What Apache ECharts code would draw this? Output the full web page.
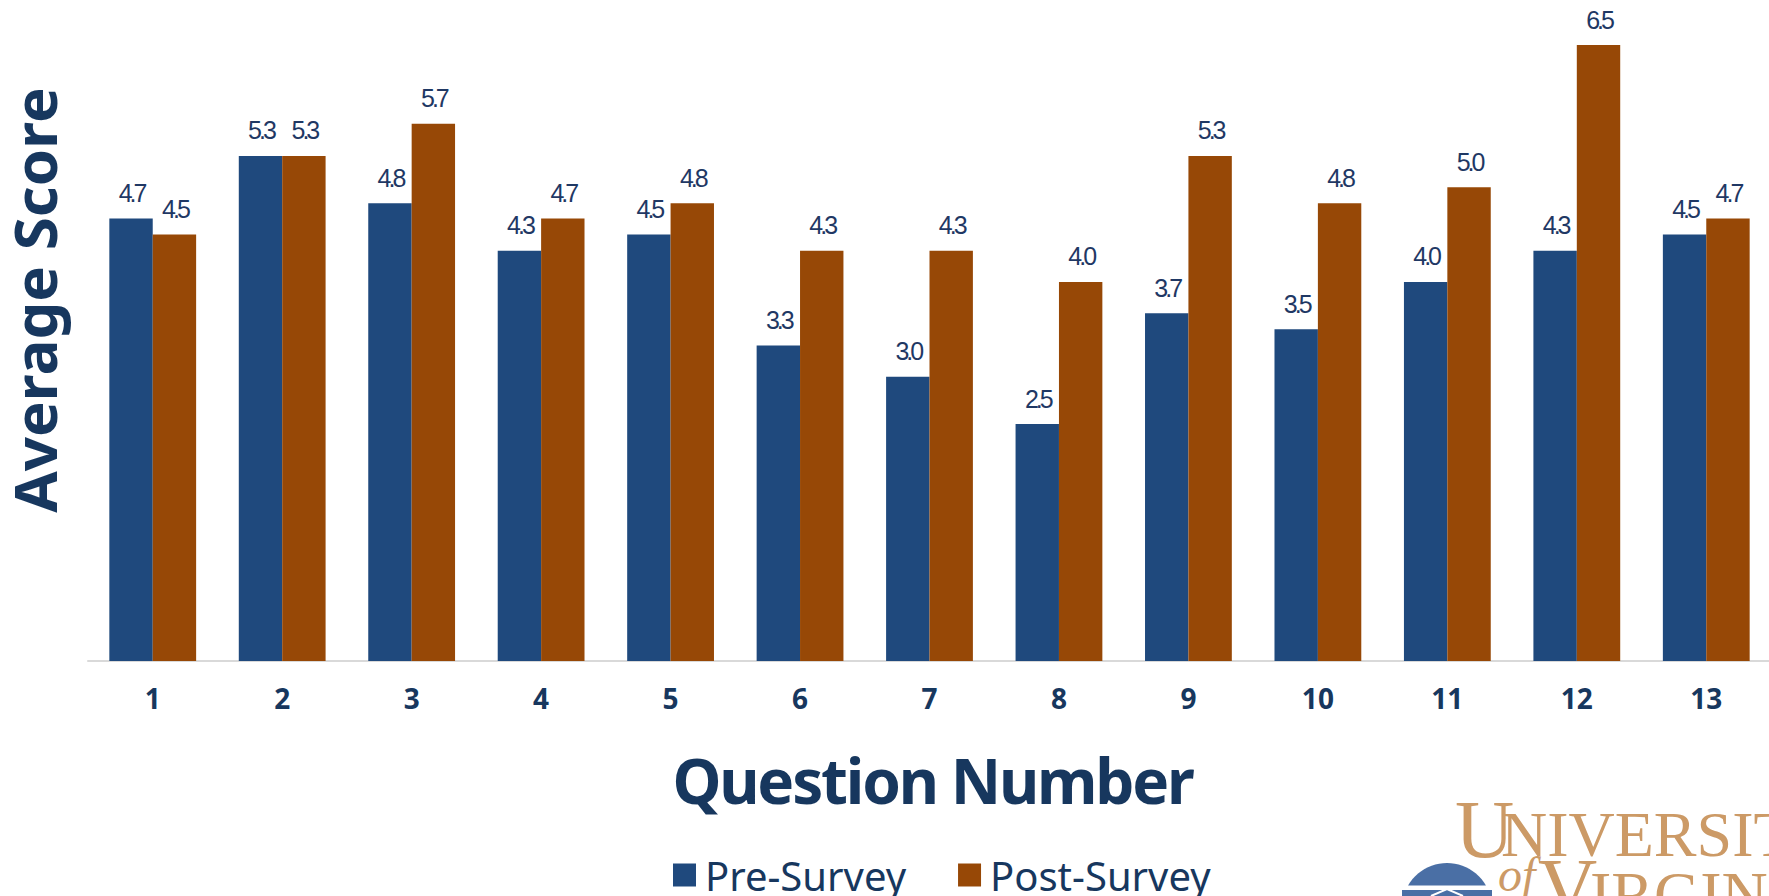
<!DOCTYPE html>
<html><head><meta charset="utf-8">
<style>html,body{margin:0;padding:0;background:#fff;overflow:hidden}#c{width:1769px;height:896px}
#c text[style*="25px"]{letter-spacing:-3px}
#c text[style*="62px"]{letter-spacing:-2.2px}
</style>
<script src="https://cdn.jsdelivr.net/npm/echarts@6/dist/echarts.min.js"></script>
</head><body><div id="c"></div>
<script>
const categories = ['1','2','3','4','5','6','7','8','9','10','11','12','13'];
const preSurvey  = [4.67,5.33,4.83,4.33,4.5,3.33,3.0,2.5,3.67,3.5,4.0,4.33,4.5];
const postSurvey = [4.5,5.33,5.67,4.67,4.83,4.33,4.33,4.0,5.33,4.83,5.0,6.5,4.67];
const ink = '#17375E';
const label = {show:true,position:'top',distance:13,offset:[0.5,0],color:'#1F3864',
  fontFamily:'"Liberation Sans",sans-serif',fontSize:25,
  formatter:p=>p.value.toFixed(1)};
const domePoints = [];
for (let a=-150;a<=-30;a+=5){const r=a*Math.PI/180;domePoints.push([1447+45*Math.cos(r),908+45*Math.sin(r)]);}
const chart = echarts.init(document.getElementById('c'),null,{renderer:'svg'});
chart.setOption({
  animation:false,
  backgroundColor:'#fff',
  grid:{left:88,top:45,width:1683,height:616,containLabel:false,outerBoundsMode:'none'},
  legend:{
    data:['Pre-Survey','Post-Survey'],left:668,top:850,icon:'rect',itemWidth:23,itemHeight:23,itemGap:52,
    textStyle:{color:ink,fontFamily:'"Noto Sans",sans-serif',fontSize:40,padding:[0,0,0,4]}
  },
  xAxis:{type:'category',data:categories,
    axisLine:{lineStyle:{color:'#D9D9D9',width:2}},axisTick:{show:false},
    axisLabel:{color:ink,fontFamily:'"Noto Sans",sans-serif',fontWeight:'bold',fontSize:28,margin:23},
    name:'Question Number',nameLocation:'middle',nameGap:88,
    nameTextStyle:{color:ink,fontFamily:'"Noto Sans",sans-serif',fontWeight:'bold',fontSize:62,padding:[0,0,0,6]}
  },
  yAxis:{type:'value',min:0,max:6.5,show:true,axisLine:{show:false},axisTick:{show:false},axisLabel:{show:false},splitLine:{show:false},
    name:'Average Score',nameLocation:'middle',nameGap:24,nameRotate:90,
    nameTextStyle:{color:ink,fontFamily:'"Noto Sans",sans-serif',fontWeight:'bold',fontSize:60,padding:[0,0,0,106]}
  },
  series:[
    {name:'Pre-Survey',type:'bar',data:preSurvey,barWidth:43.4,barGap:0,itemStyle:{color:'#1F497D'},label},
    {name:'Post-Survey',type:'bar',data:postSurvey,barWidth:43.4,barGap:0,itemStyle:{color:'#974806'},label}
  ],
  graphic:[
    {type:'text',x:1455,y:788,style:{text:'U',fill:'#CC9A66',font:'82px "Liberation Serif",serif'}},
    {type:'text',x:1501,y:802,style:{text:'NIVERSITY',fill:'#CC9A66',font:'64px "Liberation Serif",serif'}},
    {type:'text',x:1498,y:850,style:{text:'of',fill:'#CC9A66',font:'italic 48px "Liberation Serif",serif'}},
    {type:'text',x:1538,y:846,style:{text:'V',fill:'#CC9A66',font:'82px "Liberation Serif",serif'}},
    {type:'text',x:1590,y:862,style:{text:'IRGINIA',fill:'#CC9A66',font:'64px "Liberation Serif",serif'}},
    {type:'polygon',shape:{points:domePoints},style:{fill:'#4A6FA5'}},
    {type:'rect',shape:{x:1402,y:890,width:90,height:6},style:{fill:'#4A6FA5'}},
    {type:'polyline',shape:{points:[[1431,896],[1447,889],[1463,896]]},style:{stroke:'#fff',lineWidth:2,fill:null}}
  ]
});
</script></body></html>
